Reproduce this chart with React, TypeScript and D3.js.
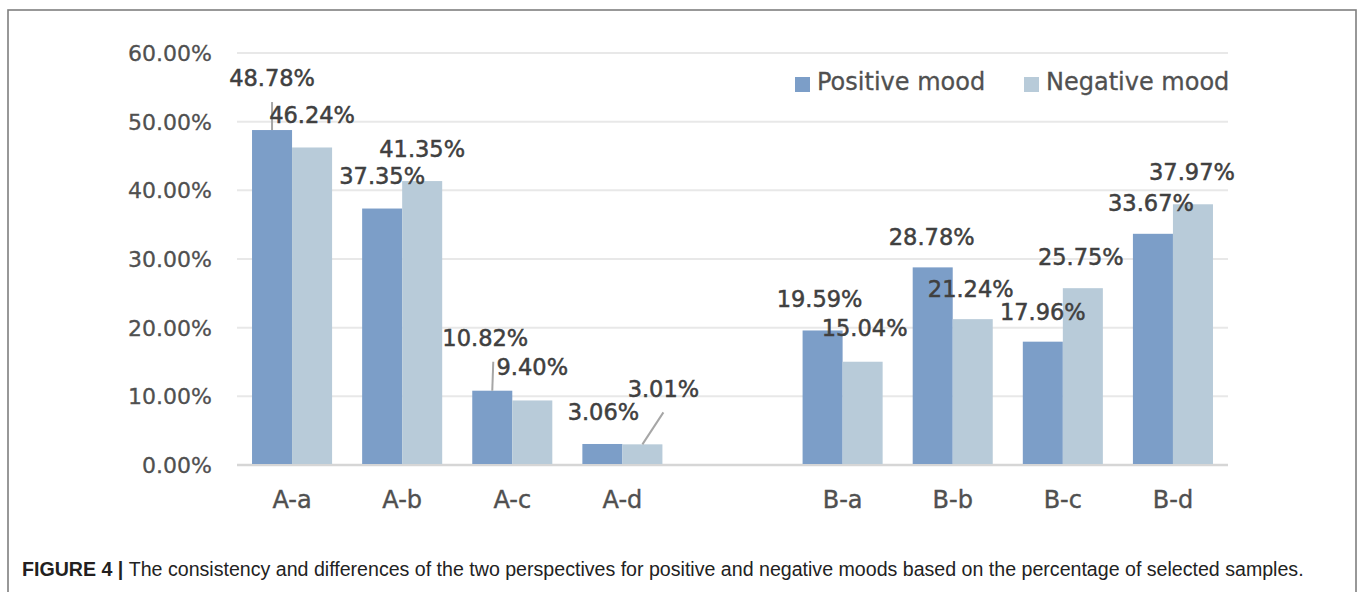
import React from "react";
import * as d3 from "d3";

const categories = ["A-a", "A-b", "A-c", "A-d", "", "B-a", "B-b", "B-c", "B-d"];
const positiveMood = [48.78, 37.35, 10.82, 3.06, null, 19.59, 28.78, 17.96, 33.67];
const negativeMood = [46.24, 41.35, 9.4, 3.01, null, 15.04, 21.24, 25.75, 37.97];
const yTicks = [0, 10, 20, 30, 40, 50, 60];
const seriesNames = ["Positive mood", "Negative mood"];

// label placement (manually moved labels in the original), px relative to bar center / bar top
const posLabelOffsets: [number, number][] = [[0, -44], [0, -25], [-7, -45], [1, -24], [0, 0], [-3, -23], [-1, -22], [0, -22], [-2, -23]];
const negLabelOffsets: [number, number][] = [[0, -24], [0, -24], [0, -25], [21, -47], [0, 0], [2, -26], [-2, -22], [-2, -23], [-1, -24]];
// leader lines: [series, index, dx, dy]
const leaders: [number, number, number, number][] = [[0, 0, 0, -28], [0, 2, 1, -29], [1, 3, 21, -32]];

const W = 1360, H = 592;
const COLORS = ["#7c9ec8", "#b8cbd9"];

export default function App() {
  const x = d3.scaleBand<string>().domain(categories.map((c, i) => i + ":" + c)).range([237, 1228]).paddingInner(0.273).paddingOuter(0.1365);
  const y = d3.scaleLinear().domain([0, 60]).range([465, 53]);
  const keys = categories.map((c, i) => i + ":" + c);
  const bw = x.bandwidth() / 2;
  const series = [positiveMood, negativeMood];
  const offsets = [posLabelOffsets, negLabelOffsets];
  const labelFont = "'DejaVu Sans', sans-serif";

  return (
    <svg width={W} height={H} style={{ position: "absolute", left: 0, top: 0, background: "#fff" }}>
      <rect x={0} y={0} width={W} height={H} fill="#fff" />
      <rect x={8} y={10} width={1348} height={H + 20} fill="none" stroke="#7f7f7f" strokeWidth={1.6} />
      {yTicks.map((t) => (
        <g key={t}>
          <line x1={237} x2={1228} y1={y(t)} y2={y(t)} stroke={t === 0 ? "#d6d6d6" : "#e8e8e8"} strokeWidth={t === 0 ? 2.5 : 2} />
          <text x={212} y={y(t)} dy="0.36em" textAnchor="end" fontFamily={labelFont} fontSize={22} fill="#505050" stroke="#505050" strokeWidth={0.3}>
            {t.toFixed(2) + "%"}
          </text>
        </g>
      ))}
      {series.map((vals, s) =>
        vals.map((v, i) =>
          v == null ? null : (
            <rect key={s + "-" + i} x={(x(keys[i]) as number) + s * bw} y={y(v)} width={bw} height={y(0) - y(v) - 1} fill={COLORS[s]} />
          )
        )
      )}
      {leaders.map(([s, i, dx, dy]) => {
        const v = series[s][i] as number;
        const cx = (x(keys[i]) as number) + s * bw + bw / 2;
        return <line key={"l" + s + i} x1={cx} y1={y(v)} x2={cx + dx} y2={y(v) + dy} stroke="#a6a6a6" strokeWidth={2} />;
      })}
      {series.map((vals, s) =>
        vals.map((v, i) => {
          if (v == null) return null;
          const cx = (x(keys[i]) as number) + s * bw + bw / 2;
          const [dx, dy] = offsets[s][i];
          return (
            <text key={"t" + s + i} x={cx + dx} y={y(v) + dy} textAnchor="middle" fontFamily={labelFont} fontSize={22.5} fill="#404040" stroke="#404040" strokeWidth={0.5}>
              {v.toFixed(2) + "%"}
            </text>
          );
        })
      )}
      {categories.map((c, i) =>
        c ? (
          <text key={"x" + i} x={(x(keys[i]) as number) + x.bandwidth() / 2} y={508} textAnchor="middle" fontFamily={labelFont} fontSize={24} fill="#505050" stroke="#505050" strokeWidth={0.4}>
            {c}
          </text>
        ) : null
      )}
      {seriesNames.map((n, s) => (
        <g key={n} transform={`translate(${s === 0 ? 795 : 1024},77)`}>
          <rect x={0} y={0} width={15} height={15} fill={COLORS[s]} />
          <text x={22} y={13} fontFamily={labelFont} fontSize={24} fill="#505050" stroke="#505050" strokeWidth={0.3}>{n}</text>
        </g>
      ))}
      <text x={22} y={576} fontFamily="'Liberation Sans', Arial, sans-serif" fontSize={19.6} fill="#222">
        <tspan fontWeight="bold" fill="#231f20">FIGURE 4 | </tspan>
        <tspan>The consistency and differences of the two perspectives for positive and negative moods based on the percentage of selected samples.</tspan>
      </text>
    </svg>
  );
}
